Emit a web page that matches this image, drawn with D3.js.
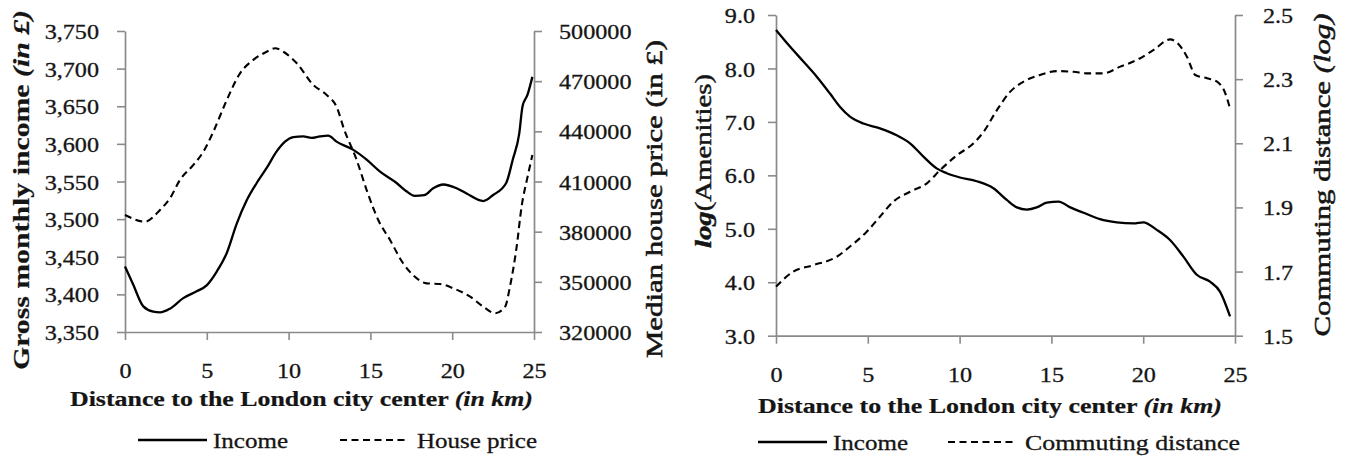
<!DOCTYPE html>
<html><head><meta charset="utf-8">
<script src="https://cdn.jsdelivr.net/npm/d3@7"></script>
<style>body{margin:0;background:#fff}</style>
</head><body>
<svg id="c" width="1349" height="460"></svg>
<script>
// ---------- data ----------
const xTicks = [0, 5, 10, 15, 20, 25];
const incomeTicks = [3350, 3400, 3450, 3500, 3550, 3600, 3650, 3700, 3750];
const priceTicks = [320000, 350000, 380000, 410000, 440000, 470000, 500000];
const amenTicks = [3, 4, 5, 6, 7, 8, 9];
const commTicks = [1.5, 1.7, 1.9, 2.1, 2.3, 2.5];

// Left panel: income (left axis)
const incomeDist = [0, 0.5, 1.12, 1.73, 2.14, 2.75, 3.56, 4.38, 4.99, 5.6, 6.22, 6.83, 7.44, 8.05, 8.66, 9.27, 9.78, 10.29, 10.9, 11.4, 11.92, 12.42, 12.93, 13.96, 14.77, 15.59, 16.6, 17.2, 17.7, 18.3, 18.84, 19.45, 20.27, 20.88, 21.9, 22.5, 23.3, 23.7, 24.1, 24.3, 24.6, 24.9];
const incomeVals = [3437, 3413, 3384, 3377, 3376, 3381, 3395, 3404, 3412, 3430, 3455, 3494, 3525, 3548, 3568, 3590, 3603, 3609, 3610, 3608, 3610, 3611, 3603, 3592, 3579, 3563, 3548, 3537, 3531, 3532, 3541, 3546, 3541, 3534, 3524, 3532, 3548, 3579, 3614, 3650, 3665, 3689];

// Left panel: house price (right axis)
const priceDist = [0, 1.22, 2.14, 2.75, 3.36, 4.18, 4.79, 5.4, 6.22, 7.03, 7.84, 8.66, 9.17, 9.68, 10.5, 11.51, 12.33, 12.93, 13.4, 14.16, 14.77, 15.48, 16.2, 17.0, 17.6, 18.44, 19.25, 20.07, 21.1, 21.9, 22.62, 23.23, 23.53, 23.94, 24.24, 24.61, 24.9];
const priceVals = [390000, 386000, 393000, 400000, 410900, 419900, 427800, 439800, 458700, 474700, 482700, 487600, 489700, 487600, 480700, 467700, 461700, 454700, 441000, 422900, 404900, 387000, 375000, 361100, 354100, 349100, 348700, 346100, 341100, 335100, 331200, 335100, 347100, 371000, 394900, 412900, 425800];

// Right panel: log(Amenities) – legend "Income" (left axis)
const amenDist = [0, 0.76, 1.49, 2.21, 2.94, 3.49, 4.03, 4.76, 5.66, 6.57, 7.3, 8.03, 8.75, 9.3, 10.02, 10.93, 11.84, 12.57, 13.12, 13.66, 14.2, 14.75, 15.39, 16.03, 16.75, 17.65, 18.56, 19.47, 20.0, 20.74, 21.46, 22.19, 22.92, 23.64, 24.19, 24.73];
const amenVals = [8.72, 8.41, 8.13, 7.85, 7.53, 7.28, 7.10, 6.97, 6.88, 6.75, 6.60, 6.35, 6.13, 6.04, 5.96, 5.89, 5.76, 5.54, 5.40, 5.36, 5.40, 5.49, 5.51, 5.40, 5.30, 5.18, 5.12, 5.10, 5.12, 4.98, 4.79, 4.48, 4.14, 4.01, 3.82, 3.36];

// Right panel: commuting distance (right axis)
const commDist = [0, 0.94, 2.03, 3.3, 4.03, 4.94, 5.66, 6.39, 7.3, 8.22, 8.95, 9.86, 10.76, 11.31, 12.04, 12.76, 13.48, 14.38, 15.29, 16.2, 16.93, 17.84, 18.75, 19.66, 20.57, 21.46, 21.84, 22.38, 22.84, 23.47, 24.02, 24.47, 24.75];
const commVals = [1.653, 1.70, 1.72, 1.746, 1.778, 1.824, 1.871, 1.918, 1.949, 1.975, 2.017, 2.063, 2.10, 2.136, 2.204, 2.261, 2.292, 2.313, 2.325, 2.323, 2.318, 2.318, 2.339, 2.36, 2.391, 2.424, 2.414, 2.37, 2.313, 2.303, 2.292, 2.256, 2.204];

// ---------- style ----------
const FONT = 'Liberation Serif';
const AX = '#8a8a8a';
const TXT = '#151515';
const SX = 1.15;   // horizontal stretch of tick labels
const svg = d3.select('#c');

function stretch(sel, factor) {
  sel.each(function () {
    const len = this.getComputedTextLength();
    d3.select(this).attr('textLength', len * factor).attr('lengthAdjust', 'spacingAndGlyphs');
  });
}

function styleAxis(g) {
  g.attr('font-family', FONT).attr('font-size', 21);
  g.select('.domain').attr('stroke', AX).attr('stroke-width', 1.7);
  g.selectAll('.tick line').attr('stroke', AX).attr('stroke-width', 1.6);
  g.selectAll('.tick text').attr('fill', TXT).attr('font-family', FONT).attr('font-size', 21)
    .attr('stroke', TXT).attr('stroke-width', 0.3);
}

function addParts(t, parts) {
  parts.forEach(p => {
    t.append('tspan').text(p[0])
      .attr('font-weight', p[1] || 'normal')
      .attr('font-style', p[2] || 'normal');
  });
}

function hText(x, y, parts, target, anchor, size, sw) {
  const t = svg.append('text').attr('fill', TXT)
    .attr('font-family', FONT).attr('font-size', size)
    .attr('text-anchor', anchor).attr('x', x).attr('y', y)
    .attr('textLength', target).attr('lengthAdjust', 'spacingAndGlyphs');
  if (sw) t.attr('stroke', TXT).attr('stroke-width', sw);
  addParts(t, parts);
  return t;
}

function vText(cx, cy, parts, target, size, sw) {
  const t = svg.append('text').attr('fill', TXT)
    .attr('font-family', FONT).attr('font-size', size)
    .attr('text-anchor', 'middle').attr('dominant-baseline', 'central')
    .attr('transform', `translate(${cx},${cy}) rotate(-90)`)
    .attr('textLength', target).attr('lengthAdjust', 'spacingAndGlyphs');
  if (sw) t.attr('stroke', TXT).attr('stroke-width', sw);
  addParts(t, parts);
  return t;
}

function panel(cfg) {
  const x = d3.scaleLinear().domain([0, 25]).range([cfg.x0, cfg.x1]);
  const yL = d3.scaleLinear().domain(cfg.lDomain).range([cfg.yB, cfg.yT]);
  const yR = d3.scaleLinear().domain(cfg.rDomain).range([cfg.yB, cfg.yT]);

  const gx = svg.append('g').attr('transform', `translate(0,${cfg.yB})`)
    .call(d3.axisBottom(x).tickValues(xTicks).tickSize(8).tickSizeOuter(0).tickFormat(d3.format('d')));
  styleAxis(gx);
  gx.selectAll('.tick text').attr('y', cfg.xLabOff).attr('dy', 0);
  stretch(gx.selectAll('.tick text'), SX);

  const gl = svg.append('g').attr('transform', `translate(${cfg.x0},0)`)
    .call(d3.axisLeft(yL).tickValues(cfg.lTicks).tickSize(8).tickSizeOuter(0).tickFormat(cfg.lFmt));
  styleAxis(gl);
  gl.selectAll('.tick text').attr('x', cfg.lLabOff).attr('dy', '0.36em');
  stretch(gl.selectAll('.tick text'), SX);

  const gr = svg.append('g').attr('transform', `translate(${cfg.x1},0)`)
    .call(d3.axisRight(yR).tickValues(cfg.rTicks).tickSize(8).tickSizeOuter(0).tickFormat(cfg.rFmt));
  styleAxis(gr);
  gr.selectAll('.tick text').attr('x', cfg.rLabOff).attr('dy', '0.36em');
  stretch(gr.selectAll('.tick text'), SX);

  const lineL = d3.line().x(d => x(d[0])).y(d => yL(d[1])).curve(d3.curveMonotoneX);
  const lineR = d3.line().x(d => x(d[0])).y(d => yR(d[1])).curve(d3.curveMonotoneX);

  svg.append('path').datum(d3.zip(cfg.rDist, cfg.rVals))
    .attr('d', lineR).attr('fill', 'none').attr('stroke', '#000')
    .attr('stroke-width', 2.1).attr('stroke-dasharray', '7,4.5');
  svg.append('path').datum(d3.zip(cfg.lDist, cfg.lVals))
    .attr('d', lineL).attr('fill', 'none').attr('stroke', '#000')
    .attr('stroke-width', 2.3);
}

panel({
  x0: 125, x1: 534, yB: 332, yT: 31,
  lDomain: [3350, 3750], rDomain: [320000, 500000],
  lTicks: incomeTicks, rTicks: priceTicks,
  lFmt: d3.format(','), rFmt: d3.format('d'),
  lDist: incomeDist, lVals: incomeVals, rDist: priceDist, rVals: priceVals,
  xLabOff: 46, lLabOff: -26, rLabOff: 25
});
panel({
  x0: 776, x1: 1235, yB: 335.7, yT: 15,
  lDomain: [3, 9], rDomain: [1.5, 2.5],
  lTicks: amenTicks, rTicks: commTicks,
  lFmt: d3.format('.1f'), rFmt: d3.format('.1f'),
  lDist: amenDist, lVals: amenVals, rDist: commDist, rVals: commVals,
  xLabOff: 46, lLabOff: -21, rLabOff: 28
});

// ---------- titles ----------
hText(301.5, 406, [['Distance to the London city center ', 'bold'], ['(in km)', 'bold', 'italic']], 463, 'middle', 20, 0.2);
hText(990, 413, [['Distance to the London city center ', 'bold'], ['(in km)', 'bold', 'italic']], 464, 'middle', 20, 0.2);

vText(21, 190, [['Gross monthly income ', 'bold'], ['(in £)', 'bold', 'italic']], 360, 24, 0.2);
vText(654, 199, [['Median house price (in £)', 'normal']], 318, 23, 0.55);
vText(703, 161, [['log', 'bold', 'italic'], ['(Amenities)', 'normal']], 174, 23, 0.45);
vText(1322, 175, [['Commuting distance ', 'normal'], ['(log)', 'normal', 'italic']], 323, 23, 0.55);

// ---------- legends ----------
function legendLine(xa, xb, y, dashed) {
  const p = svg.append('line').attr('x1', xa).attr('x2', xb).attr('y1', y).attr('y2', y)
    .attr('stroke', '#000').attr('stroke-width', dashed ? 2.1 : 2.3);
  if (dashed) p.attr('stroke-dasharray', '7,4.5');
}
legendLine(138, 207, 440, false);
hText(213, 447.5, [['Income']], 75, 'start', 21, 0.3);
legendLine(340, 408, 440, true);
hText(417, 447.5, [['House price']], 120, 'start', 21, 0.3);

legendLine(758, 827, 442, false);
hText(833, 450, [['Income']], 75, 'start', 21, 0.3);
legendLine(948, 1017, 442, true);
hText(1025, 450, [['Commuting distance']], 215, 'start', 21, 0.3);
</script>
</body></html>
